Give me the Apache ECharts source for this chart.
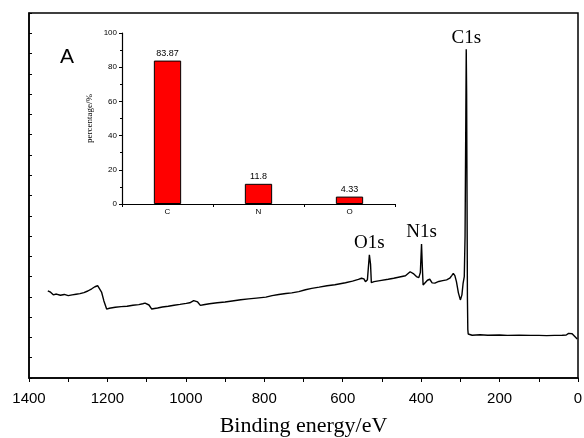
<!DOCTYPE html>
<html><head><meta charset="utf-8">
<script src="https://cdn.jsdelivr.net/npm/echarts@6/dist/echarts.min.js"></script>
<style>html,body{margin:0;padding:0;background:#fff}#c{width:584px;height:438px}</style>
</head><body><div id="c"></div>
<script>
// XPS survey spectrum (binding energy, eV) and intensity (arb. units)
var energy = [1352,1345,1338,1330,1320,1310,1300,1290,1280,1270,1260,1250,1240,1232,1225,1220,1215,1209,1202,1195,1180,1165,1150,1135,1120,1110,1104,1100,1094,1087,1080,1072,1060,1045,1030,1015,999,990,985,980,976,970,963,955,940,920,900,882,860,840,820,796,780,763,745,730,712,695,679,660,640,620,593,575,560,552,546,542,537,532,529,527,520,505,484,470,455,440,428,420,412,406,402,399,397,395,390,384,378,372,365,355,345,335,327,322,318,314,310,305,300,296,293,290,288,286,285,284,283,282,281,280,278,270,250,230,200,180,150,120,100,80,60,40,30,24,20,15,10,6,2];
var intensity = [43.0,42.3,41.0,41.4,40.8,41.2,40.6,41.0,41.3,41.6,42.1,42.9,44.0,45.0,45.5,45.0,42.4,38.0,34.0,34.4,34.9,35.2,35.4,35.9,36.2,36.6,36.9,37.4,36.0,34.0,34.3,34.5,35.0,35.4,35.9,36.3,36.8,37.1,37.2,38.2,38.8,37.5,35.8,36.1,36.6,37.1,37.5,38.0,38.6,39.0,39.4,39.9,40.6,41.2,41.7,42.0,42.6,43.5,44.2,44.8,45.5,46.0,47.0,47.8,48.6,49.2,48.9,47.5,48.5,60.7,56,47.0,47.5,48.0,48.7,49.2,49.8,50.4,52.4,51.5,50.0,49.5,52,66.1,55,45.9,46.5,48.2,48.7,46.9,46.8,47.6,48.0,48.4,49.2,50.5,51.6,50.5,47.5,42.0,38.5,41.0,46.7,50,70,130,162.1,140,90,40,24,21.7,21.2,21.1,21.3,21.1,21.2,21.0,21.1,21.0,21.0,20.9,21.0,21.1,21.2,22.0,22.8,21.8,20.8,20.1,19.2];
// peak annotations
var peakNames = ['C1s','N1s','O1s'];
var peakEnergy = [285,399,532];
var peakIntensity = [162.1,66.1,60.7];
// inset: elemental composition
var elements = ['C','N','O'];
var percentages = [83.87,11.8,4.33];

var chart = echarts.init(document.getElementById('c'));
var serif = 'Liberation Serif';
var sans = 'Liberation Sans';
var lineData = energy.map(function(e,i){return [e,intensity[i]];});
var mp = peakNames.map(function(n,i){
  return {coord:[peakEnergy[i],peakIntensity[i]], name:n,
    label:{formatter:n}};
});
chart.setOption({
  animation:false,
  grid:[
    {left:29,right:6,top:13,bottom:60,show:true,borderColor:'#000',borderWidth:1.5,outerBoundsMode:'none',containLabel:false},
    {left:122,top:33,width:273,height:171,outerBoundsMode:'none',containLabel:false}
  ],
  xAxis:[
    {type:'value',gridIndex:0,inverse:true,min:0,max:1400,interval:200,position:'bottom',
     axisLine:{show:true,onZero:false,lineStyle:{color:'#000',width:1.5}},
     axisTick:{show:true,length:4,lineStyle:{color:'#000'}},
     minorTick:{show:true,splitNumber:2,length:4,lineStyle:{color:'#000'}},
     splitLine:{show:false},
     axisLabel:{color:'#000',fontFamily:sans,fontSize:15,margin:13,
       formatter:function(v){return String(v);}},
     name:'Binding energy/eV',nameLocation:'middle',nameGap:37,
     nameTextStyle:{fontFamily:serif,fontSize:22,color:'#000',verticalAlign:'top'}},
    {type:'category',gridIndex:1,data:elements,
     axisLine:{lineStyle:{color:'#000',width:1.2}},
     axisTick:{show:true,length:3,lineStyle:{color:'#000'}},
     axisLabel:{color:'#000',fontFamily:sans,fontSize:8,margin:4}}
  ],
  yAxis:[
    {type:'value',gridIndex:0,min:0,max:180,interval:10,position:'left',
     axisLine:{show:true,onZero:false,lineStyle:{color:'#000',width:1.5}},
     axisTick:{show:true,inside:true,length:3,lineStyle:{color:'#000'}},
     axisLabel:{show:false},splitLine:{show:false}},
    {type:'value',gridIndex:1,min:0,max:100,interval:20,
     axisLine:{show:true,lineStyle:{color:'#000',width:1.2}},
     axisTick:{show:true,length:3,lineStyle:{color:'#000'}},
     minorTick:{show:true,splitNumber:2,length:2,lineStyle:{color:'#000'}},
     axisLabel:{color:'#000',fontFamily:sans,fontSize:8,margin:5},
     splitLine:{show:false},
     name:'percentage/%',nameLocation:'middle',nameGap:28,
     nameTextStyle:{fontFamily:serif,fontSize:9,color:'#000'}}
  ],
  graphic:[{type:'text',left:60,top:47,style:{text:'A',fontFamily:sans,fontSize:21,fill:'#000'}}],
  series:[
    {type:'line',xAxisIndex:0,yAxisIndex:0,data:lineData,showSymbol:false,
     lineStyle:{color:'#000',width:1.4},
     markPoint:{symbol:'circle',symbolSize:0,
       label:{show:true,position:'top',distance:2,fontFamily:serif,fontSize:19,color:'#000'},
       data:mp}},
    {type:'bar',xAxisIndex:1,yAxisIndex:1,data:percentages,barWidth:'30%',
     itemStyle:{color:'#ff0000',borderColor:'#000',borderWidth:1},
     label:{show:true,position:'top',distance:3,fontFamily:sans,fontSize:9,color:'#000'}}
  ]
});
</script></body></html>
